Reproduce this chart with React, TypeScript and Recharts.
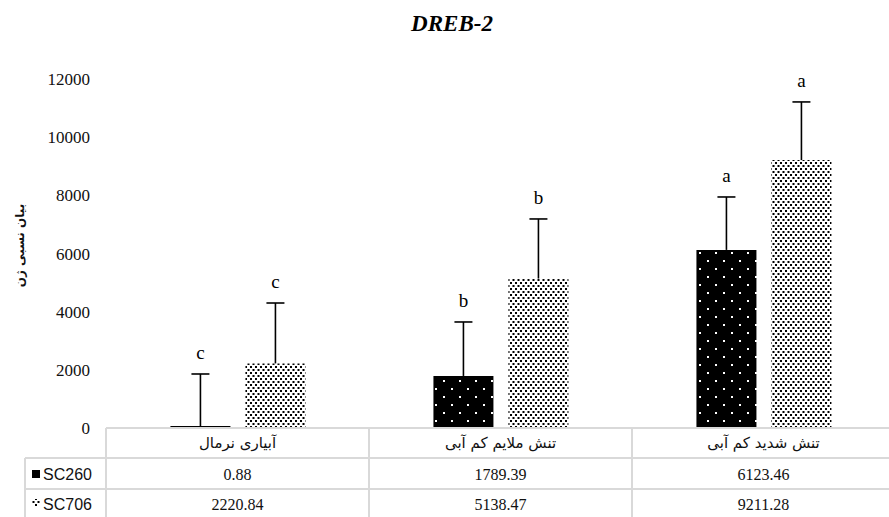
import React from 'react';
import { BarChart, Bar, XAxis, YAxis, LabelList } from 'recharts';

const categories = ['آبیاری نرمال', 'تنش ملایم کم آبی', 'تنش شدید کم آبی'];
const sc260Values = [0.88, 1789.39, 6123.46];
const sc706Values = [2220.84, 5138.47, 9211.28];
const sc260Errors = [1856, 1856, 1820];
const sc706Errors = [2077, 2049, 2000];
const sc260Letters = ['c', 'b', 'a'];
const sc706Letters = ['c', 'b', 'a'];
const sc260Labels = ['0.88', '1789.39', '6123.46'];
const sc706Labels = ['2220.84', '5138.47', '9211.28'];
const yTicks = [0, 2000, 4000, 6000, 8000, 10000, 12000];
const seriesNames = ['SC260', 'SC706'];

const data = categories.map((c, i) => ({
  name: c,
  sc260: sc260Values[i],
  sc260err: sc260Errors[i],
  sc260letter: sc260Letters[i],
  sc706: sc706Values[i],
  sc706err: sc706Errors[i],
  sc706letter: sc706Letters[i],
}));

const GRID = '#d9d9d9';
const SERIF = '"Liberation Serif", "Times New Roman", serif';
const SANS = '"Liberation Sans", Arial, sans-serif';
const FA = '"DejaVu Sans", "Noto Sans", sans-serif';
const CELL_W = 263;

const ErrShape = (props: any) => {
  const { x, y, width, height } = props;
  if (x == null || y == null) return null;
  const cx = x + width / 2;
  return (
    <g>
      <line x1={cx} y1={y + height} x2={cx} y2={y} stroke="#000" strokeWidth={1.6} />
      <line x1={cx - 9} y1={y} x2={cx + 9} y2={y} stroke="#000" strokeWidth={1.6} />
    </g>
  );
};

const TableTick = (props: any) => {
  const { x, y, payload } = props;
  const i = categories.indexOf(payload.value);
  const half = CELL_W / 2;
  const l = x - half;
  const r = x + half;
  const bottom = y + 92;
  return (
    <g>
      <line x1={l} y1={y} x2={l} y2={bottom} stroke={GRID} strokeWidth={2} />
      <line x1={r} y1={y} x2={r} y2={bottom} stroke={GRID} strokeWidth={2} />
      <line x1={l} y1={y + 30} x2={r} y2={y + 30} stroke={GRID} strokeWidth={2} />
      <line x1={l} y1={y + 61} x2={r} y2={y + 61} stroke={GRID} strokeWidth={2} />
      <text x={x} y={y + 15} textAnchor="middle" dominantBaseline="central" fontFamily={FA} fontSize={15} fill="#111">
        {payload.value}
      </text>
      <text x={x} y={y + 46} textAnchor="middle" dominantBaseline="central" fontFamily={SERIF} fontSize={16} fill="#111">
        {sc260Labels[i]}
      </text>
      <text x={x} y={y + 76} textAnchor="middle" dominantBaseline="central" fontFamily={SERIF} fontSize={16} fill="#111">
        {sc706Labels[i]}
      </text>
      {i === 0 && (
        <g>
          <line x1={l - 81} y1={y + 30} x2={l - 81} y2={bottom} stroke={GRID} strokeWidth={2} />
          <line x1={l - 81} y1={y + 30} x2={l} y2={y + 30} stroke={GRID} strokeWidth={2} />
          <line x1={l - 81} y1={y + 61} x2={l} y2={y + 61} stroke={GRID} strokeWidth={2} />
          <rect x={l - 74} y={y + 42} width={8} height={8} fill="#000" />
          <text x={l - 63} y={y + 46} dominantBaseline="central" fontFamily={SANS} fontSize={16} fill="#111">
            {seriesNames[0]}
          </text>
          <rect x={l - 74} y={y + 71} width={8} height={8} fill="url(#dotsLight)" />
          <text x={l - 63} y={y + 76} dominantBaseline="central" fontFamily={SANS} fontSize={16} fill="#111">
            {seriesNames[1]}
          </text>
        </g>
      )}
    </g>
  );
};

const YLabel = (props: any) => {
  const vb = props.viewBox || { x: 0, y: 79, width: 106, height: 349 };
  const cx = 20;
  const cy = vb.y + vb.height / 2 - 8;
  return (
    <text
      x={cx}
      y={cy}
      transform={`rotate(-90 ${cx} ${cy})`}
      textAnchor="middle"
      dominantBaseline="central"
      fontFamily={FA}
      fontWeight="bold"
      fontSize={12}
      fill="#111"
    >
      بیان نسبی ژن
    </text>
  );
};

export default function App() {
  return (
    <div style={{ position: 'absolute', left: 0, top: 0, width: 889, height: 517, background: '#fff', overflow: 'hidden' }}>
      <div
        style={{
          position: 'absolute',
          left: 352,
          top: 10,
          width: 200,
          textAlign: 'center',
          fontFamily: SERIF,
          fontStyle: 'italic',
          fontWeight: 'bold',
          fontSize: 23,
          color: '#000',
          lineHeight: '28px',
        }}
      >
        DREB-2
      </div>
      <BarChart
        width={895}
        height={517}
        data={data}
        margin={{ top: 79, right: 0, bottom: 0, left: 0 }}
        barCategoryGap="24.5%"
        barGap={15}
      >
        <defs>
          <pattern id="dotsDark" patternUnits="userSpaceOnUse" width={16} height={16}>
            <rect x={0} y={0} width={16} height={16} fill="#000" />
            <rect x={3} y={4} width={2} height={2} fill="#fff" />
            <rect x={11} y={12} width={2} height={2} fill="#fff" />
          </pattern>
          <pattern id="dotsLight" patternUnits="userSpaceOnUse" width={5} height={6}>
            <rect x={0} y={0} width={5} height={6} fill="#fff" />
            <rect x={0} y={0} width={2} height={2} fill="#000" />
            <rect x={2.5} y={3} width={2} height={2} fill="#000" />
          </pattern>
        </defs>
        <XAxis
          dataKey="name"
          height={89}
          tickLine={false}
          tickSize={0}
          tickMargin={0}
          axisLine={{ stroke: GRID, strokeWidth: 2 }}
          tick={<TableTick />}
          interval={0}
        />
        <YAxis
          width={106}
          domain={[0, 12000]}
          ticks={yTicks}
          axisLine={false}
          tickLine={false}
          tickSize={0}
          tickMargin={16}
          tick={{ fontFamily: SERIF, fontSize: 17, fill: '#111' }}
          label={<YLabel />}
        />
        <Bar dataKey="sc260" stackId="a" fill="url(#dotsDark)" minPointSize={2} isAnimationActive={false} />
        <Bar dataKey="sc260err" stackId="a" shape={<ErrShape />} isAnimationActive={false}>
          <LabelList dataKey="sc260letter" position="top" offset={15} fontFamily={SERIF} fontSize={19} fill="#000" />
        </Bar>
        <Bar dataKey="sc706" stackId="b" fill="url(#dotsLight)" isAnimationActive={false} />
        <Bar dataKey="sc706err" stackId="b" shape={<ErrShape />} isAnimationActive={false}>
          <LabelList dataKey="sc706letter" position="top" offset={15} fontFamily={SERIF} fontSize={19} fill="#000" />
        </Bar>
      </BarChart>
    </div>
  );
}
